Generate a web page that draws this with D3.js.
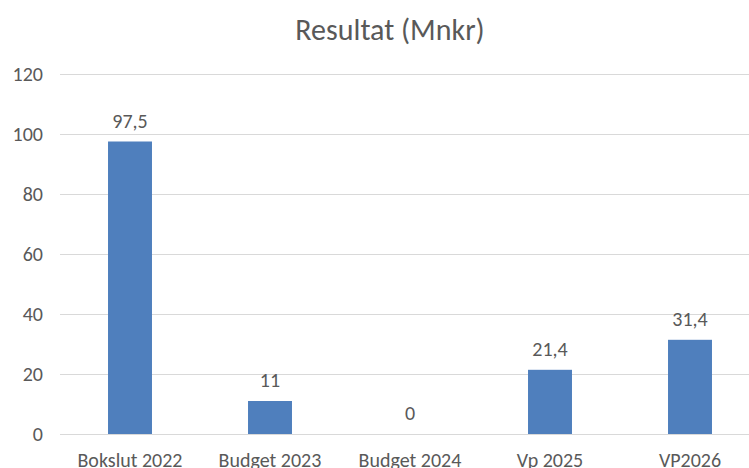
<!DOCTYPE html>
<html>
<head>
<meta charset="utf-8">
<script src="https://cdn.jsdelivr.net/npm/d3@7"></script>
<style>
  body { margin: 0; background: #fff; overflow: hidden; }
  svg text { font-family: Carlito, "Open Sans", sans-serif; fill: #595959; }
</style>
</head>
<body>
<div id="chart"></div>
<script>
const categories = ['Bokslut 2022', 'Budget 2023', 'Budget 2024', 'Vp 2025', 'VP2026'];
const values = [97.5, 11, 0, 21.4, 31.4];
const yTicks = [0, 20, 40, 60, 80, 100, 120];

const W = 749, H = 468;
const margin = {top: 74, left: 60, bottom: 34, right: -11};

const svg = d3.select('#chart')
              .append('svg')
              .attr('width', W)
              .attr('height', H);

const x = d3.scaleBand()
            .domain(categories)
            .range([margin.left, W - margin.right])
            .paddingInner(0.686)
            .paddingOuter(0.343);

const y = d3.scaleLinear()
            .domain([0, 120])
            .range([H - margin.bottom, margin.top]);

// title
svg.append('text')
   .attr('x', 390)
   .attr('y', 40)
   .attr('text-anchor', 'middle')
   .style('font-size', '30px')
   .text('Resultat (Mnkr)');

// gridlines
svg.append('g')
   .selectAll('line')
   .data(yTicks)
   .join('line')
   .attr('x1', margin.left)
   .attr('x2', W)
   .attr('y1', d => Math.round(y(d)) + 0.5)
   .attr('y2', d => Math.round(y(d)) + 0.5)
   .attr('stroke', '#d9d9d9')
   .attr('stroke-width', 1);

// y tick labels
svg.append('g')
   .selectAll('text')
   .data(yTicks)
   .join('text')
   .attr('x', 43)
   .attr('y', d => y(d))
   .attr('dy', '0.35em')
   .attr('text-anchor', 'end')
   .style('font-size', '20px')
   .text(d => d);

// bars
svg.append('g')
   .selectAll('rect')
   .data(values)
   .join('rect')
   .attr('x', (d, i) => x(categories[i]))
   .attr('width', x.bandwidth())
   .attr('y', d => y(d))
   .attr('height', d => y(0) - y(d))
   .attr('fill', '#4f7fbd');

// data labels
svg.append('g')
   .selectAll('text')
   .data(values)
   .join('text')
   .attr('x', (d, i) => x(categories[i]) + x.bandwidth() / 2)
   .attr('y', d => y(d) - 14)
   .attr('text-anchor', 'middle')
   .style('font-size', '20px')
   .text(d => String(d).replace('.', ','));

// category labels
svg.append('g')
   .selectAll('text')
   .data(categories)
   .join('text')
   .attr('x', d => x(d) + x.bandwidth() / 2)
   .attr('y', H - margin.bottom + 33)
   .attr('text-anchor', 'middle')
   .style('font-size', '20px')
   .text(d => d);
</script>
</body>
</html>
